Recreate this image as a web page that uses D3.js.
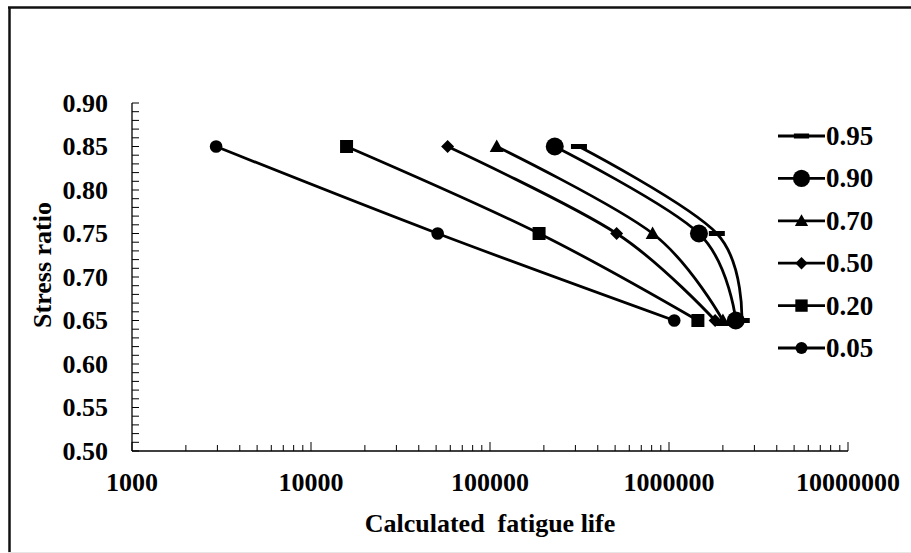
<!DOCTYPE html>
<html>
<head>
<meta charset="utf-8">
<script src="https://cdn.jsdelivr.net/npm/d3@7"></script>
<style>
  html, body { margin: 0; padding: 0; background: #fff; }
  svg { display: block; }
  text { font-family: "Liberation Serif", "Times New Roman", serif; font-weight: bold; fill: #000; }
</style>
</head>
<body>
<svg id="chart" width="911" height="553"></svg>
<script>
// ---- data ----
const stressRatios = [0.85, 0.75, 0.65];
const seriesNames = ["0.95", "0.90", "0.70", "0.50", "0.20", "0.05"];
const s095 = [314000, 1850000, 2550000];
const s090 = [230000, 1470000, 2360000];
const s070 = [109000, 810000, 2000000];
const s050 = [58000, 510000, 1810000];
const s020 = [15800, 188000, 1450000];
const s005 = [2950, 51000, 1070000];
const xTickValues = [1000, 10000, 100000, 1000000, 10000000];
const yTickValues = [0.50, 0.55, 0.60, 0.65, 0.70, 0.75, 0.80, 0.85, 0.90];
const markerTypes = ["dash", "bigcircle", "triangle", "diamond", "square", "circle"];

const seriesValues = [s095, s090, s070, s050, s020, s005];

(function () {
const svg = d3.select("#chart");
const W = 911, H = 553;
const FS = 26;

// outer frame
svg.append("line").attr("x1", 9.5).attr("y1", 7).attr("x2", 9.5).attr("y2", H).attr("stroke", "#111").attr("stroke-width", 2.5);
svg.append("line").attr("x1", 8).attr("y1", 7.5).attr("x2", W).attr("y2", 7.5).attr("stroke", "#111").attr("stroke-width", 2.5);
svg.append("line").attr("x1", 8).attr("y1", 552.5).attr("x2", W).attr("y2", 552.5).attr("stroke", "#e6e6e6").attr("stroke-width", 1);

const pLeft = 132, pRight = 848, pTop = 103, pBottom = 451;

const x = d3.scaleLog().domain([1000, 10000000]).range([pLeft, pRight]);
const y = d3.scaleLinear().domain([0.5, 0.9]).range([pBottom, pTop]);

// axes lines
const g = svg.append("g");
g.append("line").attr("x1", pLeft).attr("x2", pLeft).attr("y1", pTop).attr("y2", pBottom).attr("stroke", "#000").attr("stroke-width", 1.3);
g.append("line").attr("x1", pLeft).attr("x2", pRight).attr("y1", pBottom).attr("y2", pBottom).attr("stroke", "#000").attr("stroke-width", 1.3);

// y ticks (minor every 0.01, inward)
const yMinor = d3.range(50, 91).map(d => d / 100);
g.selectAll(".ytick").data(yMinor).enter().append("line")
  .attr("x1", pLeft).attr("x2", pLeft + 7)
  .attr("y1", d => y(d)).attr("y2", d => y(d))
  .attr("stroke", "#000").attr("stroke-width", 1);

g.selectAll(".ylab").data(yTickValues).enter().append("text")
  .attr("x", 108).attr("y", d => y(d) + 8.8)
  .attr("text-anchor", "end").attr("font-size", FS)
  .text(d => d.toFixed(2));

// x ticks
const xMinor = [];
for (let e = 3; e < 7; e++) for (let m = 2; m <= 9; m++) xMinor.push(m * Math.pow(10, e));
g.selectAll(".xminor").data(xMinor).enter().append("line")
  .attr("x1", d => x(d)).attr("x2", d => x(d))
  .attr("y1", pBottom).attr("y2", pBottom - 6)
  .attr("stroke", "#000").attr("stroke-width", 1);
g.selectAll(".xmajor").data(xTickValues).enter().append("line")
  .attr("x1", d => x(d)).attr("x2", d => x(d))
  .attr("y1", pBottom).attr("y2", pBottom - 9)
  .attr("stroke", "#000").attr("stroke-width", 1);

g.selectAll(".xlab").data(xTickValues).enter().append("text")
  .attr("x", d => x(d)).attr("y", 491)
  .attr("text-anchor", "middle").attr("font-size", FS)
  .text(d => String(d));

// axis titles
svg.append("text").attr("x", (pLeft + pRight) / 2).attr("y", 532)
  .attr("text-anchor", "middle").attr("font-size", FS)
  .attr("xml:space", "preserve")
  .text("Calculated  fatigue life");
svg.append("text")
  .attr("transform", "translate(51,265) rotate(-90)")
  .attr("text-anchor", "middle").attr("font-size", FS)
  .text("Stress ratio");

// marker drawing
function drawMarker(sel, type, cx, cy, legend) {
  const k = legend ? 0.95 : 1;
  if (type === "circle") {
    sel.append("circle").attr("cx", cx).attr("cy", cy).attr("r", 6.3 * k).attr("fill", "#000");
  } else if (type === "bigcircle") {
    sel.append("circle").attr("cx", cx).attr("cy", cy).attr("r", 9 * k).attr("fill", "#000");
  } else if (type === "square") {
    const s = 13 * k;
    sel.append("rect").attr("x", cx - s / 2).attr("y", cy - s / 2).attr("width", s).attr("height", s).attr("fill", "#000");
  } else if (type === "diamond") {
    const s = 6.5 * k;
    sel.append("path").attr("d", `M${cx},${cy - s}L${cx + s},${cy}L${cx},${cy + s}L${cx - s},${cy}Z`).attr("fill", "#000");
  } else if (type === "triangle") {
    const s = 7 * k;
    sel.append("path").attr("d", `M${cx},${cy - s}L${cx + s},${cy + s * 0.8}L${cx - s},${cy + s * 0.8}Z`).attr("fill", "#000");
  } else if (type === "dash") {
    const w = 16 * k, h = 5;
    sel.append("rect").attr("x", cx - w / 2).attr("y", cy - h / 2).attr("width", w).attr("height", h).attr("fill", "#000");
  }
}

const line = d3.line().x(d => x(d[0])).y(d => y(d[1])).curve(d3.curveCardinal.tension(0));

const plot = svg.append("g");
seriesValues.slice().reverse().forEach((vals) => {
  const pts = vals.map((v, j) => [v, stressRatios[j]]);
  plot.append("path").attr("d", line(pts))
    .attr("fill", "none").attr("stroke", "#000").attr("stroke-width", 2.8);
});
seriesValues.slice().reverse().forEach((vals, ri) => {
  const i = seriesValues.length - 1 - ri;
  vals.forEach((v, j) => drawMarker(plot, markerTypes[i], x(v), y(stressRatios[j]), false));
});

// legend
const leg = svg.append("g");
seriesNames.forEach((name, i) => {
  const ly = 136 + i * 42.4;
  leg.append("line").attr("x1", 778).attr("x2", 825).attr("y1", ly).attr("y2", ly)
    .attr("stroke", "#000").attr("stroke-width", 2.8);
  drawMarker(leg, markerTypes[i], 801.5, ly, true);
  leg.append("text").attr("x", 826).attr("y", ly + 9).attr("font-size", 27).text(name);
});
})();
</script>
</body>
</html>
